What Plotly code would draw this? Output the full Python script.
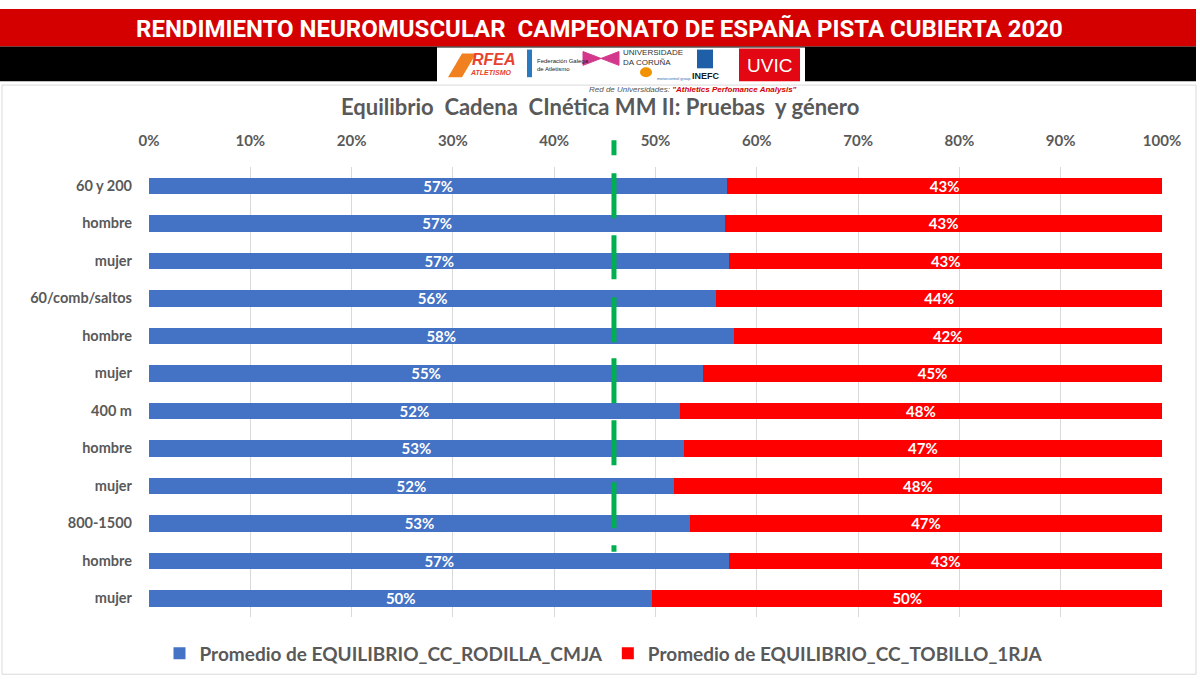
import plotly.graph_objects as go

categories = ["60 y 200", "hombre", "mujer", "60/comb/saltos", "hombre", "mujer",
              "400 m", "hombre", "mujer", "800-1500", "hombre", "mujer"]
rodilla = [57.1, 56.9, 57.3, 56.0, 57.7, 54.7, 52.4, 52.8, 51.8, 53.4, 57.3, 49.7]
tobillo = [42.9, 43.1, 42.7, 44.0, 42.3, 45.3, 47.6, 47.2, 48.2, 46.6, 42.7, 50.3]
reference_line = 45.9
x_ticks = [0, 10, 20, 30, 40, 50, 60, 70, 80, 90, 100]

rows = list(range(len(categories)))

W, H = 1200, 685
L, R, T, B = 149, 1162, 167, 623

def px(X):
    return (X - L) / (R - L)

def py(Y):
    return (B - Y) / (B - T)

FONT = "Lato, Carlito, 'Open Sans', sans-serif"
GREY = "#595959"

fig = go.Figure()
for vals, name, col in [(rodilla, "Promedio de EQUILIBRIO_CC_RODILLA_CMJA", "#4472c4"),
                        (tobillo, "Promedio de EQUILIBRIO_CC_TOBILLO_1RJA", "#ff0000")]:
    fig.add_trace(go.Bar(
        y=rows, x=vals, orientation="h", name=name,
        marker=dict(color=col, line=dict(width=0)), width=0.44,
        texttemplate="%{x:.0f}%", textposition="inside", insidetextanchor="middle",
        constraintext="none", cliponaxis=False,
        textfont=dict(color="white", size=15, family=FONT, weight="bold"),
    ))

shapes = []
# header bands
shapes.append(dict(type="rect", xref="paper", yref="paper", x0=px(0), x1=px(1196), y0=py(45), y1=py(7),
                   fillcolor="#d40000", line=dict(width=0), layer="below"))
shapes.append(dict(type="rect", xref="paper", yref="paper", x0=px(0), x1=px(1196), y0=py(80), y1=py(45),
                   fillcolor="#000000", line=dict(width=0), layer="below"))
shapes.append(dict(type="rect", xref="paper", yref="paper", x0=px(437), x1=px(805), y0=py(81), y1=py(46),
                   fillcolor="#ffffff", line=dict(width=0), layer="below"))
# UVIC box
shapes.append(dict(type="rect", xref="paper", yref="paper", x0=px(739), x1=px(800), y0=py(80), y1=py(47),
                   fillcolor="#e30613", line=dict(width=0)))
# INEFC icon
shapes.append(dict(type="rect", xref="paper", yref="paper", x0=px(697), x1=px(713), y0=py(67), y1=py(48),
                   fillcolor="#1f5fa8", line=dict(width=0)))
# UDC emblem
shapes.append(dict(type="path", xref="paper", yref="paper",
                   path=f"M {px(583)} {py(50)} L {px(619)} {py(64)} L {px(619)} {py(50)} L {px(583)} {py(64)} Z",
                   fillcolor="#d4388c", line=dict(color="#d4388c", width=1)))
# motorcontrol emblem
shapes.append(dict(type="circle", xref="paper", yref="paper", x0=px(640), x1=px(652), y0=py(76), y1=py(66),
                   fillcolor="#f39200", line=dict(width=0)))
# Federación Galega emblem
shapes.append(dict(type="rect", xref="paper", yref="paper", x0=px(527), x1=px(532), y0=py(76), y1=py(48),
                   fillcolor="#2a7ac0", line=dict(width=0)))
# RFEA emblem
shapes.append(dict(type="path", xref="paper", yref="paper",
                   path=f"M {px(448)} {py(76)} L {px(462)} {py(52)} L {px(476)} {py(52)} L {px(462)} {py(76)} Z",
                   fillcolor="#f08020", line=dict(width=0)))
# chart frame
shapes.append(dict(type="rect", xref="paper", yref="paper", x0=px(2), x1=px(1196), y0=py(681), y1=py(84),
                   fillcolor="rgba(0,0,0,0)", line=dict(color="#d9d9d9", width=1), layer="below"))
# green dashed reference line
shapes.append(dict(type="line", xref="x", yref="paper", x0=reference_line, x1=reference_line,
                   y0=py(140), y1=py(557),
                   line=dict(color="#00b050", width=5,
                             dash="15px,18px,45px,17px,44px,18px,45px,16px,45px,17px,45px,17px,46px,17px,12px,100px")))

def ann(text, X, Y, size, color, family=FONT, weight="normal", align="center", xanchor="center"):
    return dict(text=text, x=px(X), y=py(Y), xref="paper", yref="paper", showarrow=False,
                xanchor=xanchor, yanchor="middle", align=align,
                font=dict(family=family, size=size, color=color, weight=weight))

annotations = [
    ann("RENDIMIENTO NEUROMUSCULAR  CAMPEONATO DE ESPAÑA PISTA CUBIERTA 2020", 599, 27, 24, "white",
        family="'Liberation Sans Narrow', Roboto, sans-serif", weight="bold"),
    ann("<i><b>RFEA</b></i>", 494, 58, 16, "#e8412c", family="Liberation Sans"),
    ann("<i><b>ATLETISMO</b></i>", 490, 71, 7, "#e8412c", family="Liberation Sans"),
    ann("Federación Galega<br>de Atletismo", 535, 64, 6, "#1a1a1a", family="Liberation Sans",
        align="left", xanchor="left"),
    ann("UNIVERSIDADE<br>DA CORUÑA", 621, 56, 8, "#333333", family="Liberation Sans",
        align="left", xanchor="left"),
    ann("motorcontrol group", 655, 77, 4, "#2c6fb5", family="Liberation Sans", xanchor="left"),
    ann("<b>INEFC</b>", 706, 75, 9, "#1a1a1a", family="Liberation Sans"),
    ann("UVIC", 769, 64, 19, "white", family="Liberation Sans"),
    ann("<i>Red de Universidades: </i><i><b><span style='color:#d40000'>\"Athletics Perfomance Analysis\"</span></b></i>",
        693, 88, 8, "#555555", family="Liberation Sans"),
    ann("Equilibrio  Cadena  CInética MM II: Pruebas  y género", 600, 106, 22, GREY, weight="bold"),
]

fig.update_layout(
    width=W, height=H,
    margin=dict(l=L, r=W - R, t=T, b=H - B),
    paper_bgcolor="white", plot_bgcolor="white",
    barmode="stack", bargap=0.56,
    showlegend=True,
    legend=dict(orientation="h", x=px(604), xanchor="center", y=py(660), yanchor="middle",
                font=dict(family=FONT, size=19, color=GREY, weight="bold"),
                traceorder="normal", itemwidth=30),
    xaxis=dict(side="top", range=[0, 100], tickvals=x_ticks, ticktext=[f"{v}%" for v in x_ticks],
               showgrid=True, gridcolor="#d9d9d9", gridwidth=1, zeroline=False, showline=False,
               tickfont=dict(family=FONT, size=15, color=GREY, weight="bold"),
               ticks="outside", ticklen=14, tickcolor="rgba(0,0,0,0)", fixedrange=True),
    yaxis=dict(range=[len(categories) - 0.5, -0.5], tickvals=rows, ticktext=categories,
               showgrid=False, zeroline=False, showline=False, ticks="",
               tickfont=dict(family=FONT, size=14.5, color=GREY, weight="bold"), ticklabelstandoff=16),
    shapes=shapes, annotations=annotations,
    font=dict(family=FONT),
)

fig.write_html("out.html")
